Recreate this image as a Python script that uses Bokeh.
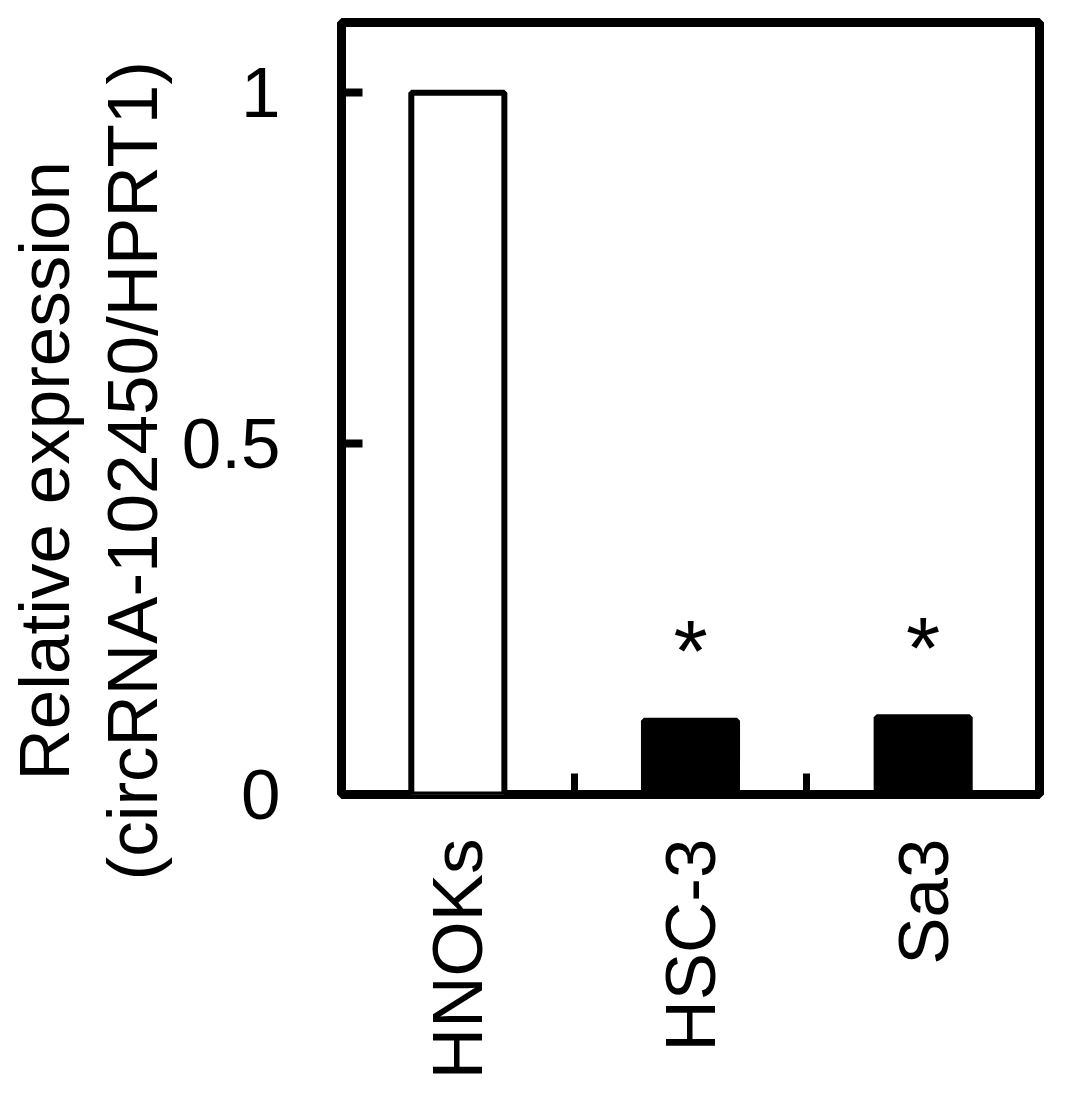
import math
from bokeh.plotting import figure
from bokeh.models import (Range1d, FixedTicker, NumeralTickFormatter, Title,
                          ColumnDataSource)
from bokeh.core.properties import value
from bokeh.embed import file_html
from bokeh.resources import INLINE

# ---- data ----
categories = ["HNOKs", "HSC-3", "Sa3"]
expression = [1.0, 0.105, 0.11]
bar_fill = ["white", "black", "black"]
significance = ["", "*", "*"]
y_ticks = [0, 0.5, 1]
y_label_line1 = "Relative expression"
y_label_line2 = "(circRNA-102450/HPRT1)"

FONT = "Liberation Sans"
positions = list(range(len(categories)))
sig_y = [v + 0.10 for v in expression]

p = figure(width=1055, height=1088, output_backend="svg", toolbar_location=None,
           x_range=Range1d(-0.5, len(categories) - 0.5), y_range=Range1d(0, 1.1),
           min_border_left=341, min_border_right=16, min_border_top=22,
           min_border_bottom=294)

p.background_fill_color = "white"
p.border_fill_color = "white"
p.outline_line_color = "black"
p.outline_line_width = 9
p.xgrid.visible = False
p.ygrid.visible = False

src = ColumnDataSource(dict(x=positions, top=expression, fill=bar_fill,
                            sig=significance, sig_y=sig_y))
p.vbar(x="x", top="top", bottom=0, width=0.40, source=src,
       fill_color="fill", line_color="black", line_width=6)

p.text(x="x", y="sig_y", text="sig", source=src,
       text_font=value(FONT), text_font_size="88px", text_align="center",
       text_baseline="alphabetic", text_color="black")

# x axis: labels at centres, ticks at category boundaries (minor ticks)
xa = p.xaxis[0]
xa.ticker = FixedTicker(ticks=positions,
                        minor_ticks=[i + 0.5 for i in positions[:-1]])
xa.major_label_overrides = {i: c for i, c in zip(positions, categories)}
xa.major_label_orientation = math.pi / 2
xa.major_label_text_font = FONT
xa.major_label_text_font_size = "71px"
xa.major_label_text_color = "black"
xa.major_label_standoff = 44
xa.major_tick_in = 0
xa.major_tick_out = 0
xa.minor_tick_in = 21
xa.minor_tick_out = 0
xa.minor_tick_line_width = 7
xa.minor_tick_line_color = "black"
xa.axis_line_color = None

ya = p.yaxis[0]
ya.ticker = FixedTicker(ticks=y_ticks, minor_ticks=[])
ya.formatter = NumeralTickFormatter(format="0.[0]")
ya.major_label_text_font = FONT
ya.major_label_text_font_size = "71px"
ya.major_label_text_color = "black"
ya.major_label_standoff = 61
ya.major_tick_in = 21
ya.major_tick_out = 0
ya.major_tick_line_width = 8
ya.major_tick_line_color = "black"
ya.minor_tick_line_color = None
ya.axis_line_color = None

# two-line y title (inner line first = closest to the axis)
for txt, off, so in ((y_label_line2, -86, 14), (y_label_line1, 14, 0)):
    p.add_layout(Title(text=txt, align="left", offset=off, standoff=so,
                       text_font=FONT, text_font_size="71px",
                       text_font_style="normal", text_color="black"), "left")

open("out.html", "w").write(file_html(p, INLINE))
